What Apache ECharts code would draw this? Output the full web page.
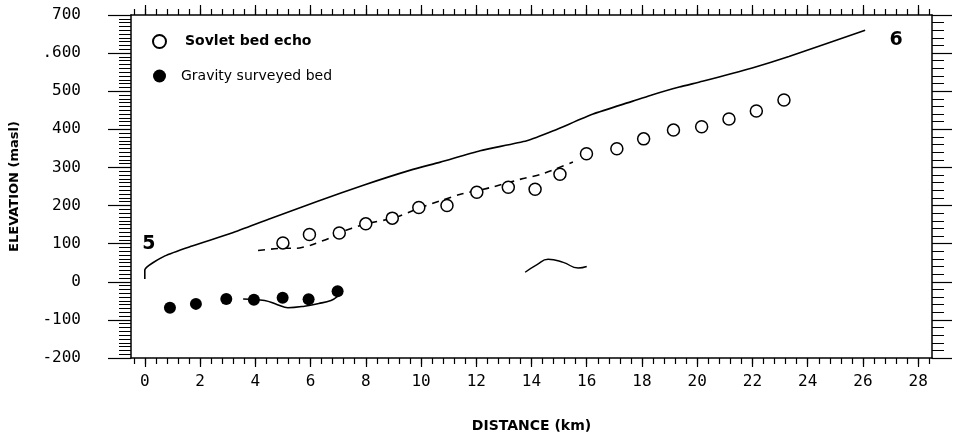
<!DOCTYPE html>
<html><head><meta charset="utf-8">
<script src="https://cdn.jsdelivr.net/npm/echarts@6/dist/echarts.min.js"></script>
<style>html,body{margin:0;padding:0;background:#fff}#c{width:959px;height:438px}</style>
</head><body><div id="c"></div>
<script>
// Surface profile (solid line from 5 to 6)
const surfaceX = [0, 0, 0.73, 1.71, 3.15, 4.58, 6.26, 7.94, 9.62, 10.70, 12.14, 13.83, 14.79, 16.23, 17.67, 18.30, 19.35, 20.19, 21.99, 23.32, 26.08];
const surfaceY = [7, 31, 68, 94, 128, 167, 211, 254, 293, 314, 344, 370, 396, 440, 474, 489, 511, 526, 561, 591, 660];
// Soviet bed echo (open circles)
const echoX = [5.0, 5.96, 7.04, 8.0, 8.96, 9.92, 10.94, 12.02, 13.16, 14.13, 15.03, 15.99, 17.09, 18.06, 19.14, 20.16, 21.15, 22.14, 23.14];
const echoY = [102, 124, 128, 152, 167, 195, 200, 235, 248, 243, 282, 336, 349, 375, 398, 407, 427, 448, 477];
// Dashed bed trace
const dashX = [4.1, 5.0, 5.5, 6.0, 6.7, 7.0, 8.0, 9.0, 10.0, 10.8, 11.4, 12.5, 13.7, 14.3, 14.9, 15.5];
const dashY = [82, 88, 88, 96, 115, 128, 152, 167, 195, 215, 229, 247, 271, 281, 297, 314];
// Gravity surveyed bed (filled dots)
const gravX = [0.91, 1.85, 2.95, 3.95, 4.99, 5.93, 6.98];
const gravY = [-68, -58, -45, -47, -42, -46, -25];
// Solid trace under gravity points
const gravLineX = [3.56, 4.34, 4.8, 5.18, 5.78, 6.3, 6.74, 6.95, 7.05];
const gravLineY = [-45, -49, -60, -68, -64, -57, -49, -40, -28];
// Small wave segment
const waveX = [13.77, 14.2, 14.6, 15.15, 15.69, 16.0];
const waveY = [25, 45, 59, 51, 36, 40];
// Point labels
const annotX = [0.15, 27.2];
const annotY = [100, 634];
const annotText = ['5', '6'];
// Axis ticks
const xTickValues = [0, 2, 4, 6, 8, 10, 12, 14, 16, 18, 20, 22, 24, 26, 28];
const xTickLabels = ['0', '2', '4', '6', '8', '10', '12', '14', '16', '18', '20', '22', '24', '26', '28'];
const yTickValues = [-200, -100, 0, 100, 200, 300, 400, 500, 600, 700];
const yTickLabels = ['-200', '-100', '0', '100', '200', '300', '400', '500', '.600', '700'];

const zip = (xs, ys) => xs.map((x, i) => [x, ys[i]]);
const xMinor = [];
for (let v = -0.4; v <= 28.4 + 1e-9; v += 0.4) xMinor.push(Math.round(v * 10) / 10);

const XMIN = -0.5, XMAX = 28.5;
const black = '#000';
const tickFont = 'DejaVu Sans Mono';

function xAxisDef(pos, custom, len, showLine, labels) {
  return {
    type: 'value', position: pos, min: XMIN, max: XMAX,
    axisLine: { show: showLine, onZero: false, lineStyle: { color: black, width: 1.5 } },
    axisTick: { show: true, customValues: custom, length: len, inside: false, lineStyle: { color: black, width: 1.2 } },
    axisLabel: labels ? {
      show: true, customValues: xTickValues, margin: 16,
      formatter: v => xTickLabels[xTickValues.indexOf(Math.round(v))] ?? '',
      color: black, fontFamily: tickFont, fontSize: 16
    } : { show: false },
    splitLine: { show: false },
    name: labels ? 'DISTANCE (km)' : '',
    nameLocation: 'middle', nameGap: 61,
    nameTextStyle: { color: black, fontFamily: 'DejaVu Sans', fontWeight: 'bold', fontSize: 14 }
  };
}

const option = {
  animation: false,
  backgroundColor: '#fff',
  grid: { left: 130, right: 27, top: 15, bottom: 76, containLabel: false },
  legend: {
    orient: 'vertical', left: 147, top: 29, itemGap: 20,
    itemWidth: 13, itemHeight: 13,
    data: [
      { name: 'Sovlet bed echo', textStyle: { fontWeight: 'bold', fontSize: 14, padding: [0, 0, 0, 14] } },
      { name: 'Gravity surveyed bed', textStyle: { fontWeight: 'normal', fontSize: 14, padding: [0, 0, 0, 10] } }
    ],
    textStyle: { color: black, fontFamily: 'DejaVu Sans' }
  },
  xAxis: [
    xAxisDef('bottom', xTickValues, 9, true, true),
    xAxisDef('bottom', xMinor, 6, false, false),
    xAxisDef('top', xTickValues, 10, true, false),
    xAxisDef('top', xMinor, 6, false, false)
  ],
  yAxis: [
    {
      type: 'value', position: 'left', min: -200, max: 700, interval: 100,
      axisLine: { show: true, onZero: false, lineStyle: { color: black, width: 1.5 } },
      axisTick: { show: true, length: 23, lineStyle: { color: black, width: 1.2 } },
      minorTick: { show: true, splitNumber: 10, length: 12, lineStyle: { color: black, width: 1 } },
      axisLabel: {
        margin: 50, color: black, fontFamily: tickFont, fontSize: 16, padding: [6, 0, 0, 0],
        formatter: v => yTickLabels[yTickValues.indexOf(Math.round(v))] ?? ''
      },
      splitLine: { show: false },
      name: 'ELEVATION (masl)', nameLocation: 'middle', nameGap: 110, nameRotate: 90,
      nameTextStyle: { color: black, fontFamily: 'DejaVu Sans', fontWeight: 'bold', fontSize: 13 }
    },
    {
      type: 'value', position: 'right', min: -200, max: 700, interval: 100,
      axisLine: { show: true, onZero: false, lineStyle: { color: black, width: 1.5 } },
      axisTick: { show: true, length: 20, lineStyle: { color: black, width: 1.2 } },
      minorTick: { show: true, splitNumber: 5, length: 12, lineStyle: { color: black, width: 1 } },
      axisLabel: { show: false },
      splitLine: { show: false }
    }
  ],
  series: [
    {
      name: 'surface', type: 'line', data: zip(surfaceX, surfaceY), showSymbol: false, symbol: 'none',
      smooth: 0.2, lineStyle: { color: black, width: 1.6 }, silent: true
    },
    {
      name: 'dash', type: 'line', data: zip(dashX, dashY), showSymbol: false, symbol: 'none',
      smooth: 0.2, lineStyle: { color: black, width: 1.6, type: [7, 6] }, silent: true
    },
    {
      name: 'gravline', type: 'line', data: zip(gravLineX, gravLineY), showSymbol: false, symbol: 'none',
      smooth: 0.4, lineStyle: { color: black, width: 1.6 }, silent: true
    },
    {
      name: 'wave', type: 'line', data: zip(waveX, waveY), showSymbol: false, symbol: 'none',
      smooth: 0.5, lineStyle: { color: black, width: 1.4 }, silent: true
    },
    {
      name: 'Sovlet bed echo', type: 'scatter', data: zip(echoX, echoY), symbol: 'circle', symbolSize: 12,
      itemStyle: { color: '#fff', borderColor: black, borderWidth: 1.5, opacity: 1 }, z: 3
    },
    {
      name: 'Gravity surveyed bed', type: 'scatter', data: zip(gravX, gravY), symbol: 'circle', symbolSize: 12,
      itemStyle: { color: black, opacity: 1 }, z: 3
    },
    {
      name: 'labels', type: 'scatter', symbolSize: 0, silent: true,
      data: annotX.map((x, i) => [x, annotY[i], annotText[i]]),
      itemStyle: { opacity: 1, color: black },
      label: {
        show: true, position: 'inside', formatter: p => p.data[2],
        color: black, opacity: 1, fontFamily: 'DejaVu Sans', fontWeight: 'bold', fontSize: 19
      }
    }
  ]
};
const chart = echarts.init(document.getElementById('c'), null, { renderer: 'canvas' });
chart.setOption(option);
</script>
</body></html>
